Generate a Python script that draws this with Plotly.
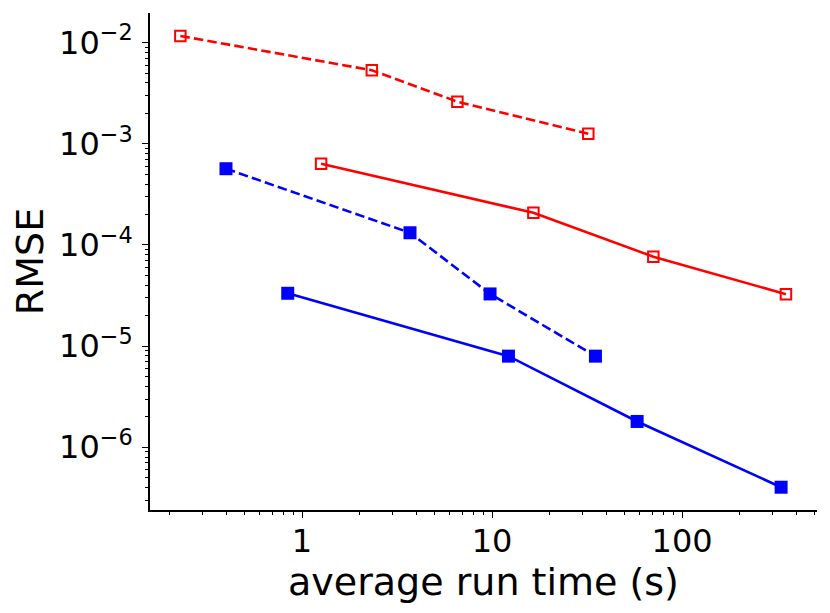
import numpy as np
import plotly.graph_objects as go

# Red dashed (open squares)
red_dash_x = [0.229, 2.33, 6.57, 32.1]
red_dash_y = [0.01165, 0.00533, 0.00261, 0.00126]
# Red solid (open squares)
red_solid_x = [1.26, 16.5, 70.6, 352]
red_solid_y = [6.34e-4, 2.08e-4, 7.66e-5, 3.26e-5]
# Blue dashed (filled squares)
blue_dash_x = [0.398, 3.70, 9.76, 35.0]
blue_dash_y = [5.67e-4, 1.32e-4, 3.28e-5, 7.96e-6]
# Blue solid (filled squares)
blue_solid_x = [0.841, 12.2, 58.0, 332]
blue_solid_y = [3.33e-5, 7.96e-6, 1.80e-6, 4.03e-7]

x_tickvals = [1, 10, 100]
x_ticktext = ["1", "10", "100"]
y_tickvals = [1e-2, 1e-3, 1e-4, 1e-5, 1e-6]
y_ticktext = ["10<sup>−2</sup>", "10<sup>−3</sup>", "10<sup>−4</sup>",
              "10<sup>−5</sup>", "10<sup>−6</sup>"]

x_minor = [m * 10.0 ** e for e in range(-1, 3) for m in range(2, 10)]
y_minor = [m * 10.0 ** e for e in range(-7, -1) for m in range(2, 10)]

RED = "#ff0000"
BLUE = "#0000ff"
DASH = "9.5px,4.2px"
LW = 2.6

fig = go.Figure()
fig.add_trace(go.Scatter(x=red_dash_x, y=red_dash_y, mode="lines+markers",
                         line=dict(color=RED, width=LW, dash=DASH),
                         marker=dict(symbol="square-open", size=10.5, color=RED,
                                     line=dict(width=2, color=RED))))
fig.add_trace(go.Scatter(x=red_solid_x, y=red_solid_y, mode="lines+markers",
                         line=dict(color=RED, width=LW),
                         marker=dict(symbol="square-open", size=10.5, color=RED,
                                     line=dict(width=2, color=RED))))
fig.add_trace(go.Scatter(x=blue_dash_x, y=blue_dash_y, mode="lines+markers",
                         line=dict(color=BLUE, width=LW, dash=DASH),
                         marker=dict(symbol="square", size=13, color=BLUE)))
fig.add_trace(go.Scatter(x=blue_solid_x, y=blue_solid_y, mode="lines+markers",
                         line=dict(color=BLUE, width=LW),
                         marker=dict(symbol="square", size=13, color=BLUE)))

tick_font = dict(family="DejaVu Sans", size=32, color="black")
title_font = dict(family="DejaVu Sans", size=38, color="black")

# page body adds an 8px offset; size the figure to compensate
fig.update_layout(
    width=822, height=605,
    paper_bgcolor="white", plot_bgcolor="white",
    showlegend=False,
    margin=dict(l=142, r=13, t=5, b=103),
    font=tick_font,
)
fig.update_xaxes(
    type="log", range=[-0.8, 2.71],
    tickmode="array", tickvals=x_tickvals, ticktext=x_ticktext,
    ticks="outside", ticklen=6, tickwidth=1.3, tickcolor="black",
    showline=True, linecolor="black", linewidth=1.5, mirror=False,
    showgrid=False, zeroline=False,
    minor=dict(tickmode="array", tickvals=x_minor, ticks="outside",
               ticklen=3.5, tickwidth=1, tickcolor="black", showgrid=False),
    tickfont=tick_font, ticklabelstandoff=-4,
    title=dict(text="average run time (s)", font=title_font, standoff=2),
)
fig.update_yaxes(
    type="log", range=[-6.62, -1.707],
    tickmode="array", tickvals=y_tickvals, ticktext=y_ticktext,
    ticks="outside", ticklen=6, tickwidth=1.3, tickcolor="black",
    showline=True, linecolor="black", linewidth=1.5, mirror=False,
    showgrid=False, zeroline=False,
    minor=dict(tickmode="array", tickvals=y_minor, ticks="outside",
               ticklen=3.5, tickwidth=1, tickcolor="black", showgrid=False),
    tickfont=tick_font, ticklabelstandoff=3,
    title=dict(text="RMSE", font=title_font, standoff=6),
)

fig.write_html("out.html")
